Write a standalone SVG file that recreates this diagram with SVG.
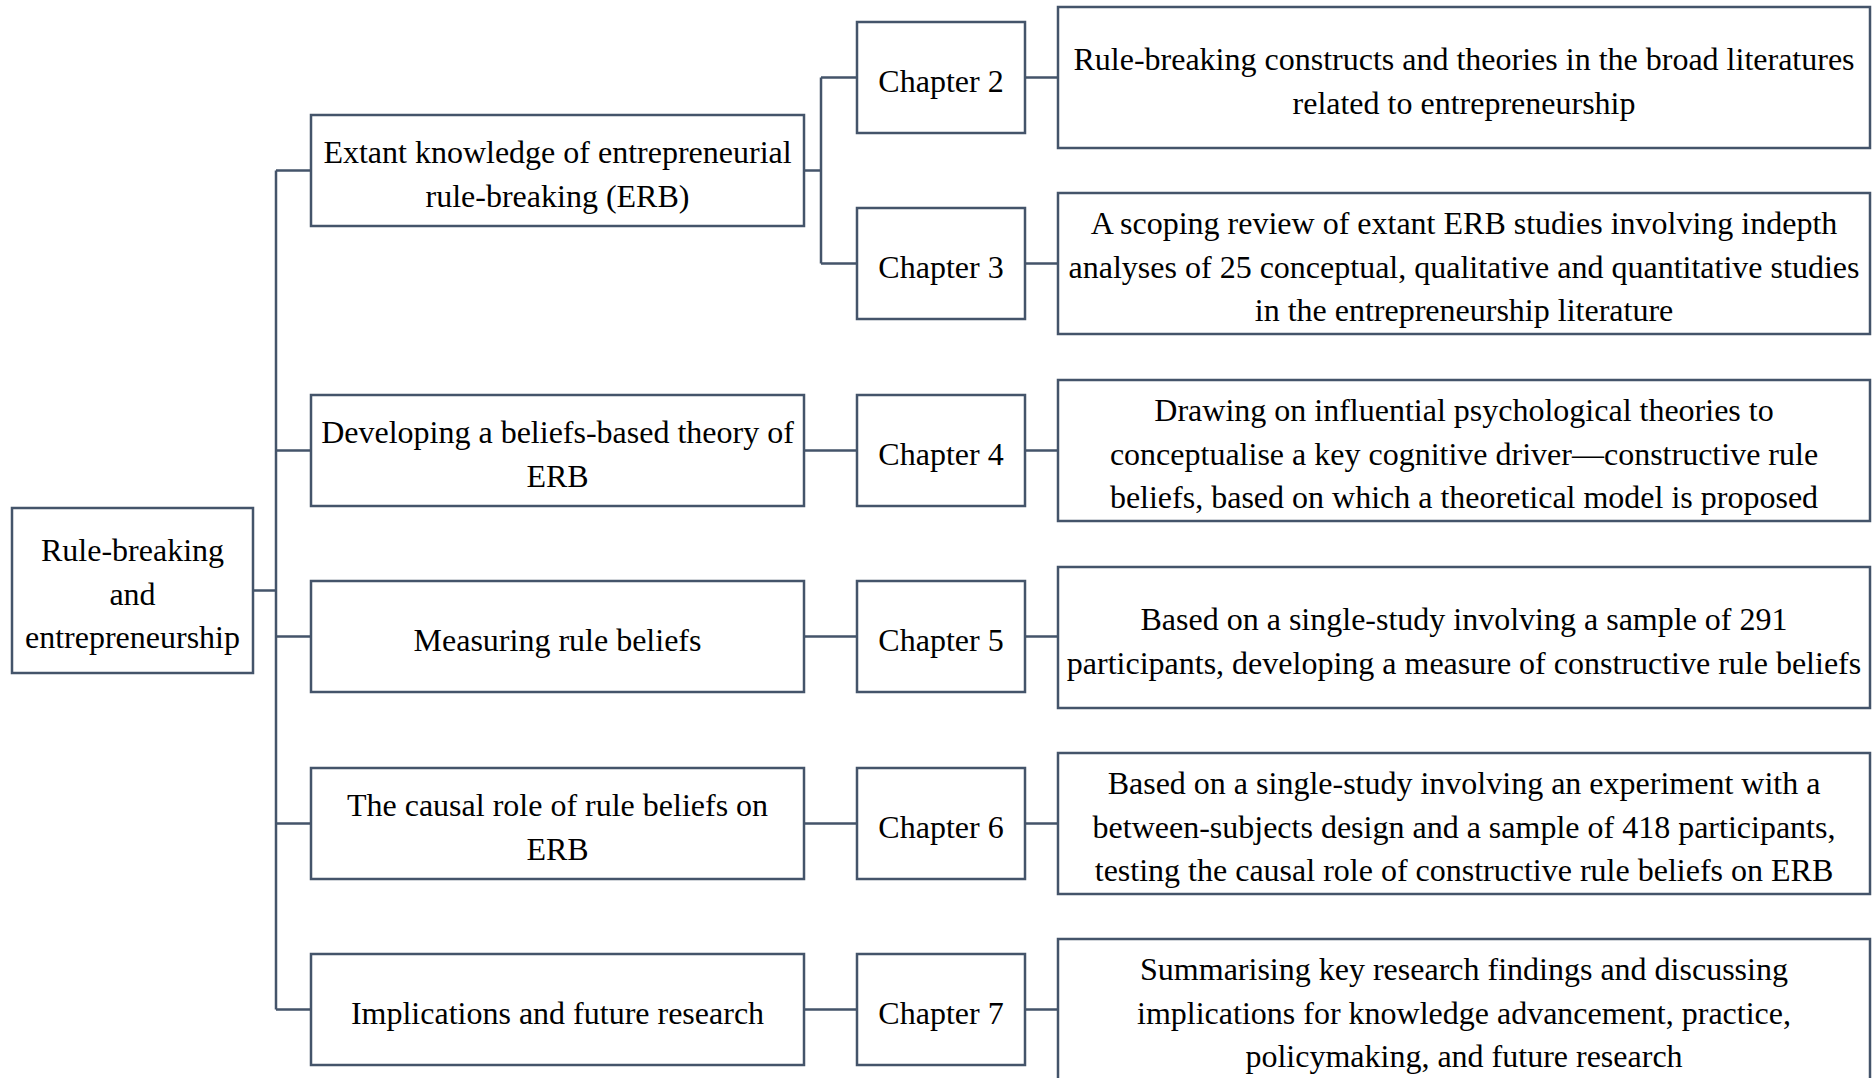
<svg xmlns="http://www.w3.org/2000/svg" width="1876" height="1078" viewBox="0 0 1876 1078">
<style>
.box{fill:#ffffff;stroke:#44546A;stroke-width:2.5}
.con{fill:none;stroke:#44546A;stroke-width:2.5}
text{font-family:"Liberation Serif","Times New Roman",serif;font-size:32px;fill:#000000;text-anchor:middle}
</style>
<rect width="1876" height="1078" fill="#ffffff"/>
<g id="connectors">
<path class="con" d="M253 590.5H276M276 170.5V1009.5M276 170.5H311M276 450.5H311M276 636.5H311M276 823.5H311M276 1009.5H311"/>
<path class="con" d="M804 170.5H821M821 77.5V263.5M821 77.5H857M821 263.5H857"/>
<path class="con" d="M804 450.5H857M804 636.5H857M804 823.5H857M804 1009.5H857"/>
<path class="con" d="M1025 77.5H1058M1025 263.5H1058M1025 450.5H1058M1025 636.5H1058M1025 823.5H1058M1025 1009.5H1058"/>
</g>
<g id="root">
<rect class="box" x="12" y="508" width="241" height="165"/>
<text x="132.5" y="561">Rule-breaking</text>
<text x="132.5" y="604.5">and</text>
<text x="132.5" y="648">entrepreneurship</text>
</g>
<g id="l1-extant">
<rect class="box" x="311" y="115" width="493" height="111"/>
<text x="557.5" y="163">Extant knowledge of entrepreneurial</text>
<text x="557.5" y="206.5">rule-breaking (ERB)</text>
</g>
<g id="l1-developing">
<rect class="box" x="311" y="395" width="493" height="111"/>
<text x="557.5" y="443">Developing a beliefs-based theory of</text>
<text x="557.5" y="486.5">ERB</text>
</g>
<g id="l1-measuring">
<rect class="box" x="311" y="581" width="493" height="111"/>
<text x="557.5" y="650.5">Measuring rule beliefs</text>
</g>
<g id="l1-causal">
<rect class="box" x="311" y="768" width="493" height="111"/>
<text x="557.5" y="816">The causal role of rule beliefs on</text>
<text x="557.5" y="859.5">ERB</text>
</g>
<g id="l1-implications">
<rect class="box" x="311" y="954" width="493" height="111"/>
<text x="557.5" y="1023.5">Implications and future research</text>
</g>
<g id="ch2">
<rect class="box" x="857" y="22" width="168" height="111"/>
<text x="941" y="91.5">Chapter 2</text>
</g>
<g id="ch3">
<rect class="box" x="857" y="208" width="168" height="111"/>
<text x="941" y="277.5">Chapter 3</text>
</g>
<g id="ch4">
<rect class="box" x="857" y="395" width="168" height="111"/>
<text x="941" y="464.5">Chapter 4</text>
</g>
<g id="ch5">
<rect class="box" x="857" y="581" width="168" height="111"/>
<text x="941" y="650.5">Chapter 5</text>
</g>
<g id="ch6">
<rect class="box" x="857" y="768" width="168" height="111"/>
<text x="941" y="837.5">Chapter 6</text>
</g>
<g id="ch7">
<rect class="box" x="857" y="954" width="168" height="111"/>
<text x="941" y="1023.5">Chapter 7</text>
</g>
<g id="d2">
<rect class="box" x="1058" y="7" width="812" height="141"/>
<text x="1464" y="70">Rule-breaking constructs and theories in the broad literatures</text>
<text x="1464" y="113.5">related to entrepreneurship</text>
</g>
<g id="d3">
<rect class="box" x="1058" y="193" width="812" height="141"/>
<text x="1464" y="234">A scoping review of extant ERB studies involving indepth</text>
<text x="1464" y="277.5">analyses of 25 conceptual, qualitative and quantitative studies</text>
<text x="1464" y="321">in the entrepreneurship literature</text>
</g>
<g id="d4">
<rect class="box" x="1058" y="380" width="812" height="141"/>
<text x="1464" y="421">Drawing on influential psychological theories to</text>
<text x="1464" y="464.5">conceptualise a key cognitive driver—constructive rule</text>
<text x="1464" y="508">beliefs, based on which a theoretical model is proposed</text>
</g>
<g id="d5">
<rect class="box" x="1058" y="567" width="812" height="141"/>
<text x="1464" y="630">Based on a single-study involving a sample of 291</text>
<text x="1464" y="673.5">participants, developing a measure of constructive rule beliefs</text>
</g>
<g id="d6">
<rect class="box" x="1058" y="753" width="812" height="141"/>
<text x="1464" y="794">Based on a single-study involving an experiment with a</text>
<text x="1464" y="837.5">between-subjects design and a sample of 418 participants,</text>
<text x="1464" y="881">testing the causal role of constructive rule beliefs on ERB</text>
</g>
<g id="d7">
<rect class="box" x="1058" y="939" width="812" height="141"/>
<text x="1464" y="980">Summarising key research findings and discussing</text>
<text x="1464" y="1023.5">implications for knowledge advancement, practice,</text>
<text x="1464" y="1067">policymaking, and future research</text>
</g>
</svg>
